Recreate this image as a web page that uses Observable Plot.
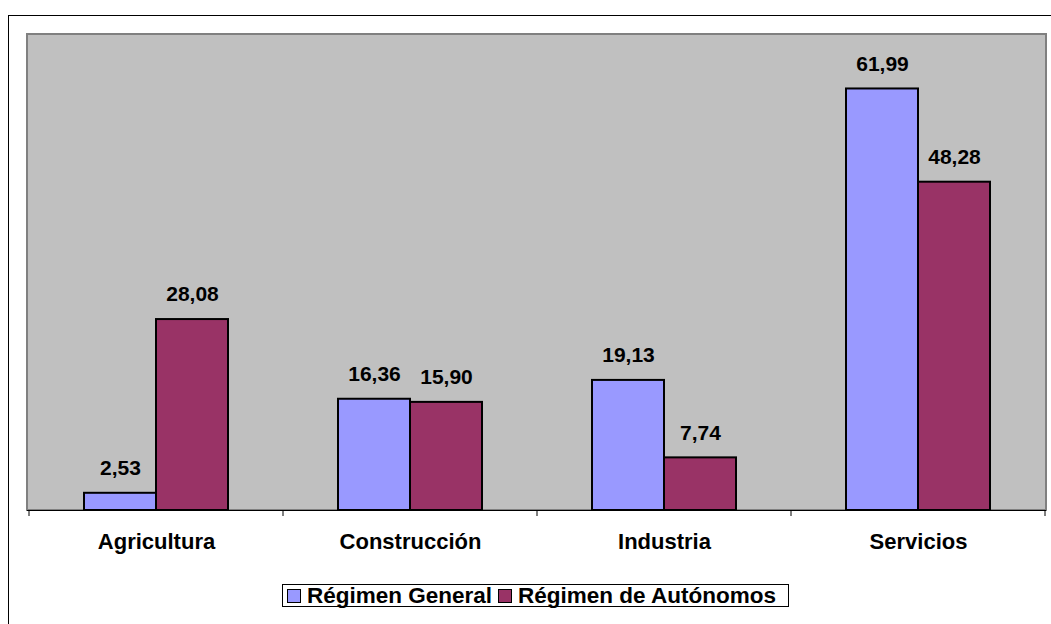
<!DOCTYPE html>
<html>
<head>
<meta charset="utf-8">
<script src="https://cdn.jsdelivr.net/npm/d3@7"></script>
<script src="https://cdn.jsdelivr.net/npm/@observablehq/plot@0.6"></script>
<style>
  html, body { margin: 0; padding: 0; background: #fff; overflow: hidden; }
  #wrap { position: relative; width: 1051px; height: 624px; font-family: "Liberation Sans", Arial, sans-serif; }
  #outer { position: absolute; left: 8px; top: 15px; width: 1100px; height: 700px; border: 1px solid #000; box-sizing: border-box; }
  #chart { position: absolute; left: 0; top: 0; }
  #legend { position: absolute; left: 282px; top: 584px; width: 507px; height: 23px; box-sizing: border-box;
            border: 1px solid #000; background: #fff; display: flex; align-items: center; justify-content: flex-start;
            padding-left: 4px; font-weight: bold; font-size: 22.5px; white-space: nowrap; }
  .item { display: flex; align-items: center; margin-right: 6px; }
  .sw { width: 12px; height: 12px; border: 1px solid #000; margin-right: 6px; }
</style>
</head>
<body>
<div id="wrap">
  <div id="outer"></div>
  <div id="chart"></div>
  <div id="legend"></div>
</div>
<script>
const categories = ["Agricultura", "Construcción", "Industria", "Servicios"];
const seriesNames = ["Régimen General", "Régimen de Autónomos"];
const seriesColors = ["#9999FF", "#993366"];
const general = [2.53, 16.36, 19.13, 61.99];
const autonomos = [28.08, 15.90, 7.74, 48.28];

const rows = [];
categories.forEach((c, i) => {
  rows.push({category: c, series: seriesNames[0], value: general[i]});
  rows.push({category: c, series: seriesNames[1], value: autonomos[i]});
});
const fmt = v => v.toFixed(2).replace(".", ",");

const chart = Plot.plot({
  width: 1051,
  height: 624,
  marginLeft: 27,
  marginRight: 5,
  marginTop: 34,
  marginBottom: 114,
  style: {fontFamily: "'Liberation Sans', Arial, sans-serif", background: "transparent", overflow: "visible"},
  fx: {domain: categories, padding: 0, axis: "bottom", label: null, tickSize: 0, tickPadding: 23, fontSize: 22},
  x: {domain: seriesNames, paddingInner: 0, paddingOuter: 0.75, axis: null},
  y: {domain: [0, 70], axis: null},
  color: {domain: seriesNames, range: seriesColors},
  marks: [
    Plot.barY(rows, {fx: "category", x: "series", y: "value", fill: "series", stroke: "#000", strokeWidth: 2}),
    Plot.text(rows, {fx: "category", x: "series", y: "value", text: d => fmt(d.value), dy: -25,
      fontSize: 21, fontWeight: "bold", fill: "#000"}),
    Plot.ruleY([0], {stroke: "#000", strokeWidth: 1})
  ]
});

d3.select(chart).selectAll("[aria-label='fx-axis tick label'] text, [aria-label='fx-axis tick label']")
  .attr("font-weight", "bold").attr("font-size", 22).attr("fill", "#000");

const fx = chart.scale("fx");
const y = chart.scale("y");
const svg = d3.select(chart);
const x0 = fx.range[0], x1 = fx.range[1];
const yb = y.range[0], yt = y.range[1];
svg.insert("rect", ":first-child")
  .attr("x", x0).attr("y", yt).attr("width", x1 - x0).attr("height", yb - yt)
  .attr("fill", "#C0C0C0").attr("stroke", "#808080").attr("stroke-width", 2);
const bounds = categories.map(c => fx.apply(c)).concat([fx.apply(categories[categories.length - 1]) + fx.bandwidth]);
svg.append("g").selectAll("line").data(bounds).join("line")
  .attr("x1", d => d).attr("x2", d => d).attr("y1", yb).attr("y2", yb + 6)
  .attr("stroke", "#000").attr("stroke-width", 1);
svg.append("line").attr("x1", x0).attr("x2", x1).attr("y1", yb + 0.5).attr("y2", yb + 0.5)
  .attr("stroke", "#000").attr("stroke-width", 1);

document.getElementById("chart").appendChild(chart);

const legend = d3.select("#legend");
seriesNames.forEach((s, i) => {
  const it = legend.append("div").attr("class", "item");
  it.append("div").attr("class", "sw").style("background", seriesColors[i]);
  it.append("span").text(s);
});
</script>
</body>
</html>
